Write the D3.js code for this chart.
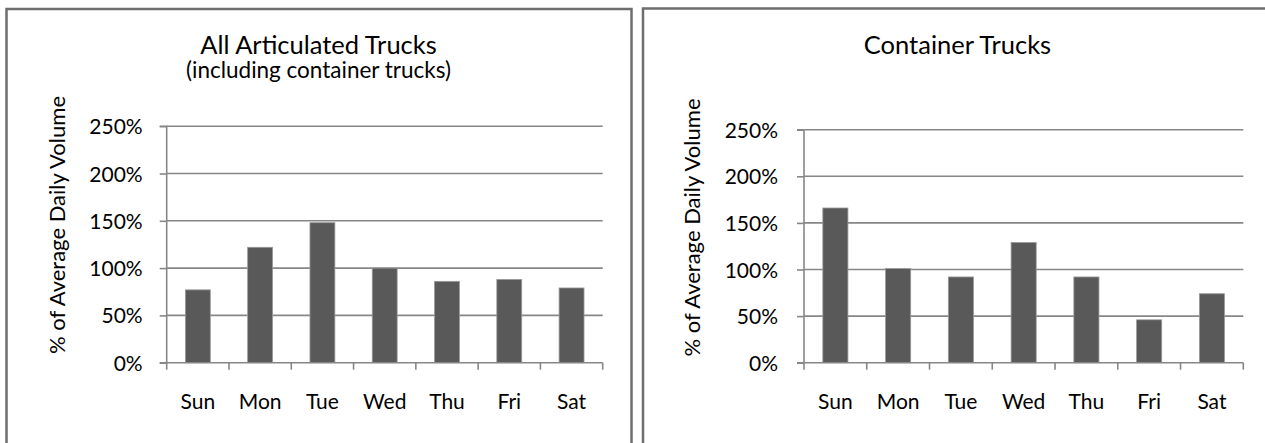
<!DOCTYPE html>
<html>
<head>
<meta charset="utf-8">
<script src="https://cdn.jsdelivr.net/npm/d3@7"></script>
<style>
  html, body { margin: 0; padding: 0; background: #fff; }
  svg { display: block; }
  text { font-family: Lato, "Open Sans", sans-serif; fill: #000; }
</style>
</head>
<body>
<svg id="chart" width="1265" height="443"></svg>
<script>
// Day-of-week truck volumes, as % of average daily volume
const days = ["Sun", "Mon", "Tue", "Wed", "Thu", "Fri", "Sat"];
const articulatedPct = [77, 122, 148, 100, 86, 88, 79];
const containerPct = [166, 101, 92, 129, 92, 46, 74];
const yTicks = [0, 50, 100, 150, 200, 250];
const yAxisTitle = "% of Average Daily Volume";

const svg = d3.select("#chart");
const gridColor = "#878787";
const barColor = "#595959";

function panel(cfg) {
  const g = svg.append("g");

  // panel frame (runs off the bottom / right edge)
  g.append("rect")
    .attr("x", cfg.frame.x).attr("y", cfg.frame.y)
    .attr("width", cfg.frame.w).attr("height", cfg.frame.h)
    .attr("fill", "none").attr("stroke", "#6e6e6e").attr("stroke-width", 2.5);

  const x = d3.scaleBand().domain(days).range([cfg.x0, cfg.x1]).paddingInner(0.6).paddingOuter(0.3);
  const xb = d3.scaleBand().domain(days).range([cfg.x0, cfg.x1]);
  const y = d3.scaleLinear().domain([0, 250]).range([cfg.yBottom, cfg.yTop]);

  // horizontal gridlines
  g.append("g").selectAll("line").data(yTicks.filter(t => t > 0)).join("line")
    .attr("x1", cfg.x0).attr("x2", cfg.x1)
    .attr("y1", d => y(d)).attr("y2", d => y(d))
    .attr("stroke", gridColor).attr("stroke-width", 1.6);

  // bars
  g.append("g").selectAll("rect").data(cfg.values).join("rect")
    .attr("x", (d, i) => x(days[i]))
    .attr("width", x.bandwidth())
    .attr("y", d => y(d))
    .attr("height", d => y(0) - y(d))
    .attr("fill", barColor)
    .attr("stroke", "#9a9a9a").attr("stroke-width", 0.8);

  // y axis
  const yAxis = d3.axisLeft(y).tickValues(yTicks).tickSize(7).tickPadding(12)
    .tickFormat(d => d + "%");
  const ya = g.append("g").attr("transform", `translate(${cfg.x0},0)`).call(yAxis);
  ya.select(".domain").attr("stroke", gridColor).attr("stroke-width", 1.6).attr("d", `M-7,${cfg.yTop}H0V${cfg.yBottom}`);
  ya.selectAll(".tick line").attr("stroke", gridColor).attr("stroke-width", 1.6);
  ya.selectAll(".tick text").attr("font-size", 21).attr("dy", "0.36em").attr("x", -cfg.tickGap);

  // x axis: baseline with ticks at band boundaries
  g.append("line")
    .attr("x1", cfg.x0 - 7).attr("x2", cfg.x1)
    .attr("y1", y(0)).attr("y2", y(0))
    .attr("stroke", gridColor).attr("stroke-width", 1.6);
  const bounds = days.map(d => xb(d)).concat([cfg.x1]);
  g.append("g").selectAll("line").data(bounds).join("line")
    .attr("x1", d => d).attr("x2", d => d)
    .attr("y1", y(0)).attr("y2", y(0) + 7)
    .attr("stroke", gridColor).attr("stroke-width", 1.6);
  g.append("g").selectAll("text").data(days).join("text")
    .attr("x", d => xb(d) + xb.bandwidth() / 2)
    .attr("y", cfg.catBaseline)
    .attr("text-anchor", "middle").attr("font-size", 21)
    .text(d => d);

  // titles
  g.append("text").attr("x", cfg.titleX).attr("y", 54)
    .attr("text-anchor", "middle").attr("font-size", 25.5).text(cfg.title);
  if (cfg.subtitle) {
    g.append("text").attr("x", cfg.titleX).attr("y", 78)
      .attr("text-anchor", "middle").attr("font-size", 22.5).text(cfg.subtitle);
  }

  // y axis title
  g.append("text")
    .attr("transform", `translate(${cfg.yTitleX},${cfg.yTitleY}) rotate(-90)`)
    .attr("text-anchor", "middle").attr("font-size", 22)
    .text(yAxisTitle);
}

panel({
  frame: { x: 6.5, y: 9, w: 625, h: 460 },
  x0: 166.7, x1: 602.7, yTop: 126.2, yBottom: 362.7,
  values: articulatedPct, tickGap: 24,
  catBaseline: 409,
  title: "All Articulated Trucks", subtitle: "(including container trucks)", titleX: 318.5,
  yTitleX: 65, yTitleY: 225
});

panel({
  frame: { x: 643, y: 8.5, w: 640, h: 460 },
  x0: 804, x1: 1243.3, yTop: 129.7, yBottom: 362.7,
  values: containerPct, tickGap: 26,
  catBaseline: 409,
  title: "Container Trucks", subtitle: null, titleX: 957.5,
  yTitleX: 700, yTitleY: 227.5
});
</script>
</body>
</html>
